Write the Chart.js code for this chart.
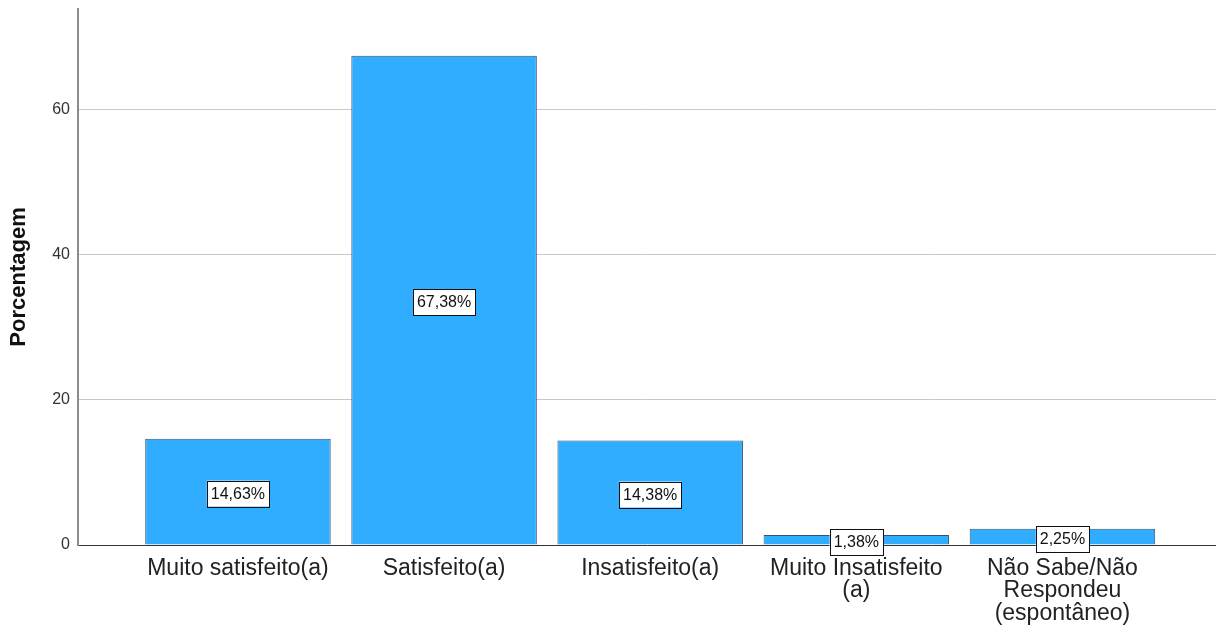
<!DOCTYPE html>
<html>
<head>
<meta charset="utf-8">
<script src="https://cdn.jsdelivr.net/npm/chart.js@4"></script>
<style>
html, body { margin: 0; padding: 0; background: #fff; }
#wrap { width: 1216px; height: 627px; }
</style>
</head>
<body>
<div id="wrap"><canvas id="canvas"></canvas></div>
<script>
var categories = [
	['Muito satisfeito(a)'],
	['Satisfeito(a)'],
	['Insatisfeito(a)'],
	['Muito Insatisfeito', '(a)'],
	['Não Sabe/Não', 'Respondeu', '(espontâneo)']
];
var percentages = [14.63, 67.38, 14.38, 1.38, 2.25];
var yTicks = [0, 20, 40, 60];

var fontName = '"Liberation Sans", Arial, sans-serif';

// white boxes with the percentage, centred on each bar
var valueBoxes = {
	id: 'valueBoxes',
	afterDatasetsDraw: function(chart){
		var ctx = chart.ctx;
		var meta = chart.getDatasetMeta(0);
		ctx.save();
		ctx.font = '16px ' + fontName;
		ctx.textAlign = 'center';
		ctx.textBaseline = 'middle';
		meta.data.forEach(function(bar, i){
			var text = percentages[i].toFixed(2).replace('.', ',') + '%';
			var cx = bar.x;
			var cy = (bar.y + bar.base) / 2 + 2;
			var w = ctx.measureText(text).width + 8;
			var h = 26;
			ctx.fillStyle = '#ffffff';
			ctx.fillRect(cx - w / 2, cy - h / 2, w, h);
			ctx.strokeStyle = '#111111';
			ctx.lineWidth = 1;
			ctx.strokeRect(Math.round(cx - w / 2) + 0.5, Math.round(cy - h / 2) + 0.5, Math.round(w), h);
			ctx.fillStyle = '#111111';
			ctx.fillText(text, cx, cy + 1);
		});
		ctx.restore();
	}
};

var points = percentages.map(function(v, i){ return {x: i, y: v}; });

var config = {
	type: 'bar',
	data: {
		datasets: [{
			data: points,
			backgroundColor: '#31adff',
			borderColor: '#35556e',
			borderWidth: 1,
			categoryPercentage: 1,
			barPercentage: 0.9
		}]
	},
	options: {
		responsive: true,
		maintainAspectRatio: false,
		animation: false,
		layout: { padding: { top: 9, right: 0, bottom: 0, left: 0 } },
		plugins: {
			legend: { display: false },
			tooltip: { enabled: false }
		},
		scales: {
			x: {
				type: 'linear',
				offset: false,
				min: -0.776,
				max: 4.745,
				grid: { display: false, drawTicks: false, offset: false },
				border: { display: true, color: '#333333', width: 1 },
				ticks: {
					stepSize: 1,
					includeBounds: false,
					autoSkip: false,
					maxRotation: 0,
					minRotation: 0,
					padding: 12,
					color: '#222222',
					font: { family: fontName, size: 23, lineHeight: 0.98 },
					callback: function(value){
						return Number.isInteger(value) && categories[value] ? categories[value] : '';
					}
				},
				afterFit: function(scale){
					scale.height = 82;
					scale.paddingLeft = 0;
					scale.paddingRight = 0;
				}
			},
			y: {
				min: 0,
				max: 73.8,
				grid: { color: '#c8c8c8', lineWidth: 1, drawTicks: false },
				border: { display: true, color: '#8c8c8c', width: 2 },
				afterBuildTicks: function(scale){
					scale.ticks = yTicks.map(function(v){ return {value: v}; });
				},
				ticks: {
					padding: 8,
					color: '#333333',
					font: { family: fontName, size: 16 }
				},
				title: {
					display: true,
					text: 'Porcentagem',
					color: '#111111',
					font: { family: fontName, size: 22, weight: 'bold' },
					padding: { top: 6, bottom: 0 }
				},
				afterFit: function(scale){
					scale.width = 78;
					scale.paddingTop = 0;
					scale.paddingBottom = 0;
				}
			}
		}
	},
	plugins: [valueBoxes]
};

var ctx = document.getElementById('canvas').getContext('2d');
window.myBar = new Chart(ctx, config);
</script>
</body>
</html>
